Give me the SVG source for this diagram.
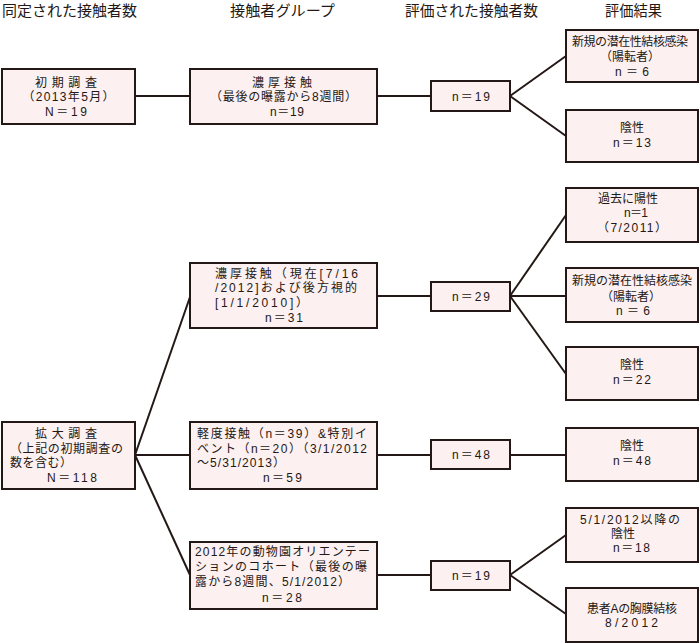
<svg xmlns="http://www.w3.org/2000/svg" width="700" height="643" viewBox="0 0 700 643">
<style>
.bx{fill:#fdf0f0;stroke:#231815;stroke-width:2}
.cn{stroke:#231815;stroke-width:2;fill:none}
text{font-family:"Liberation Sans","Noto Sans CJK JP",sans-serif;fill:#231815}
.h{font-size:14.5px}
.t{font-size:12px}
.c{text-anchor:middle}
</style>
<rect width="700" height="643" fill="#ffffff"/>
<g id="headers">
<text class="h" x="2" y="16" textLength="135" lengthAdjust="spacingAndGlyphs">同定された接触者数</text>
<text class="h" x="230" y="16" textLength="105" lengthAdjust="spacingAndGlyphs">接触者グループ</text>
<text class="h" x="405" y="16" textLength="133" lengthAdjust="spacingAndGlyphs">評価された接触者数</text>
<text class="h" x="605" y="16" textLength="57" lengthAdjust="spacingAndGlyphs">評価結果</text>
</g>
<g id="connectors">
<line class="cn" x1="135" y1="96" x2="190" y2="96"/>
<line class="cn" x1="377" y1="96" x2="431" y2="96"/>
<line class="cn" x1="510" y1="96" x2="566" y2="56"/>
<line class="cn" x1="510" y1="96" x2="566" y2="136"/>
<line class="cn" x1="377" y1="296" x2="431" y2="296"/>
<line class="cn" x1="510" y1="296" x2="566" y2="215"/>
<line class="cn" x1="510" y1="296" x2="566" y2="296"/>
<line class="cn" x1="510" y1="296" x2="566" y2="374"/>
<line class="cn" x1="135" y1="455" x2="190" y2="297"/>
<line class="cn" x1="135" y1="455" x2="190" y2="455"/>
<line class="cn" x1="135" y1="455" x2="190" y2="575"/>
<line class="cn" x1="377" y1="455" x2="431" y2="455"/>
<line class="cn" x1="510" y1="455" x2="566" y2="455"/>
<line class="cn" x1="377" y1="575" x2="431" y2="575"/>
<line class="cn" x1="510" y1="575" x2="566" y2="535"/>
<line class="cn" x1="510" y1="575" x2="566" y2="614"/>
</g>
<g id="initial">
<rect class="bx" x="2" y="69" width="133" height="55"/>
<text class="t c"><tspan x="66" y="87" textLength="62" lengthAdjust="spacing">初期調査</tspan><tspan x="68.5" y="101" textLength="92" lengthAdjust="spacing">（2013年5月）</tspan><tspan x="66" y="116" textLength="42" lengthAdjust="spacing">N＝19</tspan></text>
</g>
<g id="close1">
<rect class="bx" x="190" y="69" width="187" height="55"/>
<text class="t c"><tspan x="282" y="87" textLength="60" lengthAdjust="spacing">濃厚接触</tspan><tspan x="283.5" y="101" textLength="147" lengthAdjust="spacing">（最後の曝露から8週間）</tspan><tspan x="287" y="116" textLength="34" lengthAdjust="spacing">n＝19</tspan></text>
</g>
<g id="n19a">
<rect class="bx" x="431" y="81" width="79" height="30"/>
<text class="t c" x="471" y="101" textLength="38" lengthAdjust="spacing">n＝19</text>
</g>
<g id="newltbi1">
<rect class="bx" x="566" y="30" width="132" height="52"/>
<text class="t c"><tspan x="630" y="46" textLength="116" lengthAdjust="spacing">新規の潜在性結核感染</tspan><tspan x="630" y="61">（陽転者）</tspan><tspan x="632" y="76" textLength="34" lengthAdjust="spacing">n＝6</tspan></text>
</g>
<g id="neg13">
<rect class="bx" x="566" y="110" width="132" height="52"/>
<text class="t c"><tspan x="632" y="132">陰性</tspan><tspan x="632" y="147" textLength="38" lengthAdjust="spacing">n＝13</tspan></text>
</g>
<g id="close2">
<rect class="bx" x="190" y="263" width="187" height="65"/>
<text class="t"><tspan x="215" y="278" textLength="143" lengthAdjust="spacing">濃厚接触（現在[7/16</tspan><tspan x="215" y="292" textLength="142" lengthAdjust="spacing">/2012]および後方視的</tspan><tspan x="215" y="307" textLength="93" lengthAdjust="spacing">[1/1/2010]）</tspan><tspan x="284" y="322" textLength="38" lengthAdjust="spacing" text-anchor="middle">n＝31</tspan></text>
</g>
<g id="n29">
<rect class="bx" x="431" y="282" width="79" height="29"/>
<text class="t c" x="471" y="301" textLength="38" lengthAdjust="spacing">n＝29</text>
</g>
<g id="prevpos">
<rect class="bx" x="566" y="188" width="132" height="54"/>
<text class="t c"><tspan x="628" y="203">過去に陽性</tspan><tspan x="636" y="217" textLength="24" lengthAdjust="spacing">n＝1</tspan><tspan x="632" y="232" textLength="70" lengthAdjust="spacing">（7/2011）</tspan></text>
</g>
<g id="newltbi2">
<rect class="bx" x="566" y="268" width="132" height="54"/>
<text class="t c"><tspan x="632" y="285" textLength="120" lengthAdjust="spacing">新規の潜在性結核感染</tspan><tspan x="631" y="301">（陽転者）</tspan><tspan x="633" y="315" textLength="34" lengthAdjust="spacing">n＝6</tspan></text>
</g>
<g id="neg22">
<rect class="bx" x="566" y="347" width="132" height="53"/>
<text class="t c"><tspan x="632" y="369">陰性</tspan><tspan x="632" y="384" textLength="38" lengthAdjust="spacing">n＝22</tspan></text>
</g>
<g id="expanded">
<rect class="bx" x="2" y="422" width="133" height="67"/>
<text class="t"><tspan x="66" y="438" textLength="62" lengthAdjust="spacing" text-anchor="middle">拡大調査</tspan><tspan x="10" y="453" textLength="113" lengthAdjust="spacing">（上記の初期調査の</tspan><tspan x="10" y="467" textLength="62" lengthAdjust="spacing">数を含む）</tspan><tspan x="72" y="482" textLength="50" lengthAdjust="spacing" text-anchor="middle">N＝118</tspan></text>
</g>
<g id="casual">
<rect class="bx" x="190" y="422" width="187" height="67"/>
<text class="t"><tspan x="197" y="438" textLength="170" lengthAdjust="spacing">軽度接触（n＝39）&amp;特別イ</tspan><tspan x="197" y="453" textLength="170" lengthAdjust="spacing">ベント（n＝20）（3/1/2012</tspan><tspan x="197" y="467" textLength="88" lengthAdjust="spacing">〜5/31/2013）</tspan><tspan x="282.5" y="482" textLength="39" lengthAdjust="spacing" text-anchor="middle">n＝59</tspan></text>
</g>
<g id="n48">
<rect class="bx" x="431" y="440" width="79" height="29"/>
<text class="t c" x="471" y="459" textLength="38" lengthAdjust="spacing">n＝48</text>
</g>
<g id="neg48">
<rect class="bx" x="566" y="428" width="132" height="53"/>
<text class="t c"><tspan x="632" y="450">陰性</tspan><tspan x="632" y="465" textLength="38" lengthAdjust="spacing">n＝48</tspan></text>
</g>
<g id="zoo">
<rect class="bx" x="190" y="542" width="187" height="67"/>
<text class="t"><tspan x="195" y="556" textLength="175" lengthAdjust="spacing">2012年の動物園オリエンテー</tspan><tspan x="195" y="571" textLength="172" lengthAdjust="spacing">ションのコホート（最後の曝</tspan><tspan x="195" y="586" textLength="155" lengthAdjust="spacing">露から8週間、5/1/2012）</tspan><tspan x="282" y="602" textLength="40" lengthAdjust="spacing" text-anchor="middle">n＝28</tspan></text>
</g>
<g id="n19b">
<rect class="bx" x="431" y="561" width="79" height="29"/>
<text class="t c" x="471" y="580" textLength="38" lengthAdjust="spacing">n＝19</text>
</g>
<g id="neg18">
<rect class="bx" x="566" y="508" width="132" height="54"/>
<text class="t c"><tspan x="630" y="524" textLength="100" lengthAdjust="spacing">5/1/2012以降の</tspan><tspan x="623" y="538">陰性</tspan><tspan x="631.5" y="552" textLength="37" lengthAdjust="spacing">n＝18</tspan></text>
</g>
<g id="patientA">
<rect class="bx" x="566" y="588" width="132" height="54"/>
<text class="t c"><tspan x="632" y="613" textLength="90" lengthAdjust="spacing">患者Aの胸膜結核</tspan><tspan x="631.5" y="627" textLength="53" lengthAdjust="spacing">8/2012</tspan></text>
</g>
</svg>
